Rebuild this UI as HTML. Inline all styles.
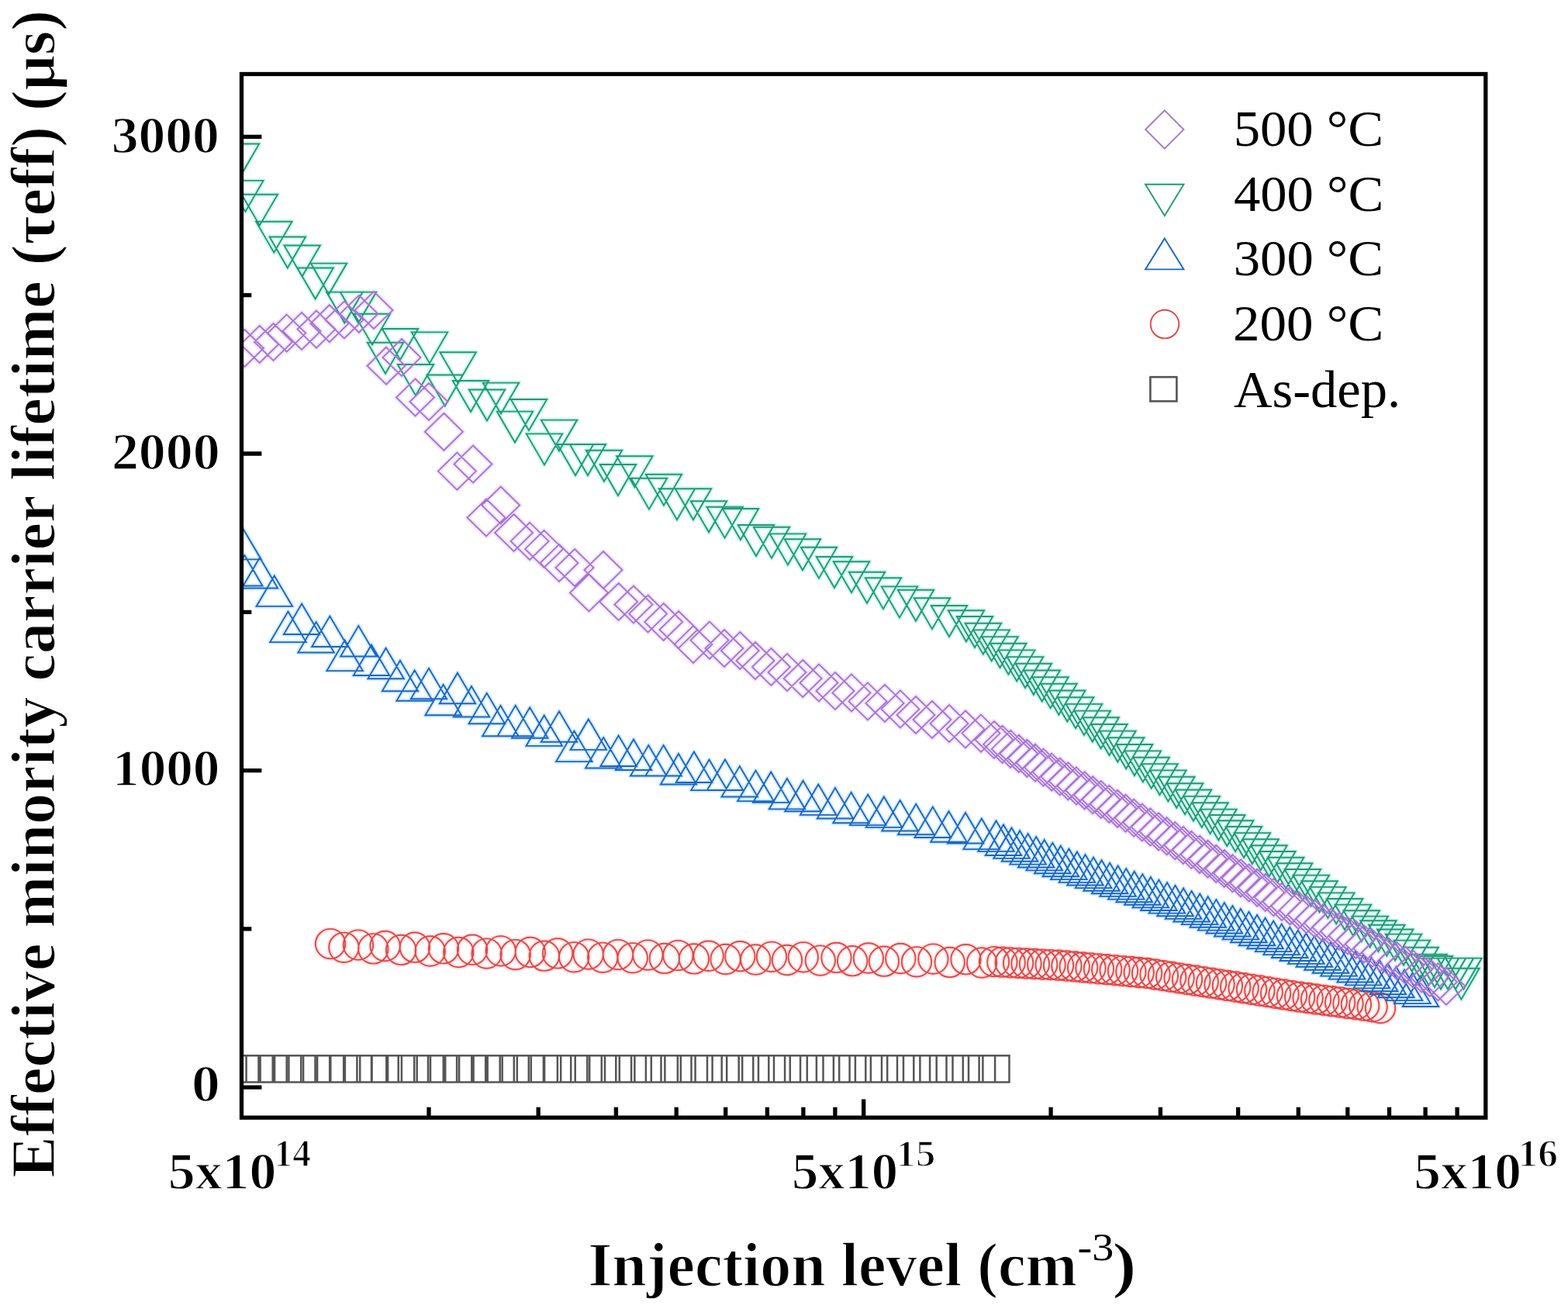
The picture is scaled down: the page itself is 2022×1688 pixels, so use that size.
<!DOCTYPE html>
<html><head><meta charset="utf-8"><title>Effective minority carrier lifetime</title>
<style>html,body{margin:0;padding:0;background:#fff;}svg{display:block;}</style>
</head><body>
<svg width="2022" height="1688" viewBox="0 0 2022 1688">
<defs><clipPath id="pc"><rect x="311.5" y="95.5" width="1604.3" height="1345.7"/></clipPath></defs>
<rect width="2022" height="1688" fill="#fff"/>
<g clip-path="url(#pc)" fill="none" stroke-linejoin="miter">
<g stroke-width="6" opacity="0.8" stroke-linejoin="round">
<path d="M406.9 1217.1a19.2 19.2 0 1 0 38.4 0a19.2 19.2 0 1 0 -38.4 0ZM424.2 1221.8a19.2 19.2 0 1 0 38.4 0a19.2 19.2 0 1 0 -38.4 0ZM442.8 1218.6a19.2 19.2 0 1 0 38.4 0a19.2 19.2 0 1 0 -38.4 0ZM462.1 1223.4a19.2 19.2 0 1 0 38.4 0a19.2 19.2 0 1 0 -38.4 0ZM477.4 1220.0a19.2 19.2 0 1 0 38.4 0a19.2 19.2 0 1 0 -38.4 0ZM497.9 1224.9a19.2 19.2 0 1 0 38.4 0a19.2 19.2 0 1 0 -38.4 0ZM515.7 1221.7a19.2 19.2 0 1 0 38.4 0a19.2 19.2 0 1 0 -38.4 0ZM535.5 1226.5a19.2 19.2 0 1 0 38.4 0a19.2 19.2 0 1 0 -38.4 0ZM552.8 1223.2a19.2 19.2 0 1 0 38.4 0a19.2 19.2 0 1 0 -38.4 0ZM572.1 1228.0a19.2 19.2 0 1 0 38.4 0a19.2 19.2 0 1 0 -38.4 0ZM589.9 1224.8a19.2 19.2 0 1 0 38.4 0a19.2 19.2 0 1 0 -38.4 0ZM608.4 1229.6a19.2 19.2 0 1 0 38.4 0a19.2 19.2 0 1 0 -38.4 0ZM626.5 1226.3a19.2 19.2 0 1 0 38.4 0a19.2 19.2 0 1 0 -38.4 0ZM645.5 1231.1a19.2 19.2 0 1 0 38.4 0a19.2 19.2 0 1 0 -38.4 0ZM664.6 1227.9a19.2 19.2 0 1 0 38.4 0a19.2 19.2 0 1 0 -38.4 0ZM682.6 1232.7a19.2 19.2 0 1 0 38.4 0a19.2 19.2 0 1 0 -38.4 0ZM699.9 1229.4a19.2 19.2 0 1 0 38.4 0a19.2 19.2 0 1 0 -38.4 0ZM721.0 1234.3a19.2 19.2 0 1 0 38.4 0a19.2 19.2 0 1 0 -38.4 0ZM739.5 1230.6a19.2 19.2 0 1 0 38.4 0a19.2 19.2 0 1 0 -38.4 0ZM758.0 1234.8a19.2 19.2 0 1 0 38.4 0a19.2 19.2 0 1 0 -38.4 0ZM777.8 1231.1a19.2 19.2 0 1 0 38.4 0a19.2 19.2 0 1 0 -38.4 0ZM796.6 1235.3a19.2 19.2 0 1 0 38.4 0a19.2 19.2 0 1 0 -38.4 0ZM816.2 1231.6a19.2 19.2 0 1 0 38.4 0a19.2 19.2 0 1 0 -38.4 0ZM837.6 1235.9a19.2 19.2 0 1 0 38.4 0a19.2 19.2 0 1 0 -38.4 0ZM855.2 1232.1a19.2 19.2 0 1 0 38.4 0a19.2 19.2 0 1 0 -38.4 0ZM875.7 1236.4a19.2 19.2 0 1 0 38.4 0a19.2 19.2 0 1 0 -38.4 0ZM894.4 1232.7a19.2 19.2 0 1 0 38.4 0a19.2 19.2 0 1 0 -38.4 0ZM916.4 1237.0a19.2 19.2 0 1 0 38.4 0a19.2 19.2 0 1 0 -38.4 0ZM935.1 1233.2a19.2 19.2 0 1 0 38.4 0a19.2 19.2 0 1 0 -38.4 0ZM955.1 1237.5a19.2 19.2 0 1 0 38.4 0a19.2 19.2 0 1 0 -38.4 0ZM975.8 1233.8a19.2 19.2 0 1 0 38.4 0a19.2 19.2 0 1 0 -38.4 0ZM995.8 1238.0a19.2 19.2 0 1 0 38.4 0a19.2 19.2 0 1 0 -38.4 0ZM1016.6 1234.3a19.2 19.2 0 1 0 38.4 0a19.2 19.2 0 1 0 -38.4 0ZM1038.6 1238.6a19.2 19.2 0 1 0 38.4 0a19.2 19.2 0 1 0 -38.4 0ZM1059.3 1234.9a19.2 19.2 0 1 0 38.4 0a19.2 19.2 0 1 0 -38.4 0ZM1080.0 1239.2a19.2 19.2 0 1 0 38.4 0a19.2 19.2 0 1 0 -38.4 0ZM1100.7 1235.5a19.2 19.2 0 1 0 38.4 0a19.2 19.2 0 1 0 -38.4 0ZM1120.7 1239.7a19.2 19.2 0 1 0 38.4 0a19.2 19.2 0 1 0 -38.4 0ZM1142.1 1236.0a19.2 19.2 0 1 0 38.4 0a19.2 19.2 0 1 0 -38.4 0ZM1162.8 1240.3a19.2 19.2 0 1 0 38.4 0a19.2 19.2 0 1 0 -38.4 0ZM1184.2 1236.6a19.2 19.2 0 1 0 38.4 0a19.2 19.2 0 1 0 -38.4 0ZM1205.5 1240.9a19.2 19.2 0 1 0 38.4 0a19.2 19.2 0 1 0 -38.4 0ZM1226.3 1237.2a19.2 19.2 0 1 0 38.4 0a19.2 19.2 0 1 0 -38.4 0ZM1246.9 1241.5a19.2 19.2 0 1 0 38.4 0a19.2 19.2 0 1 0 -38.4 0ZM1262.8 1240.1a19.2 19.2 0 1 0 38.4 0a19.2 19.2 0 1 0 -38.4 0ZM1273.2 1240.7a19.2 19.2 0 1 0 38.4 0a19.2 19.2 0 1 0 -38.4 0ZM1283.5 1241.3a19.2 19.2 0 1 0 38.4 0a19.2 19.2 0 1 0 -38.4 0ZM1293.9 1241.8a19.2 19.2 0 1 0 38.4 0a19.2 19.2 0 1 0 -38.4 0ZM1304.3 1242.4a19.2 19.2 0 1 0 38.4 0a19.2 19.2 0 1 0 -38.4 0ZM1314.7 1243.0a19.2 19.2 0 1 0 38.4 0a19.2 19.2 0 1 0 -38.4 0ZM1325.0 1243.6a19.2 19.2 0 1 0 38.4 0a19.2 19.2 0 1 0 -38.4 0ZM1335.4 1244.1a19.2 19.2 0 1 0 38.4 0a19.2 19.2 0 1 0 -38.4 0ZM1345.8 1244.7a19.2 19.2 0 1 0 38.4 0a19.2 19.2 0 1 0 -38.4 0ZM1356.2 1245.5a19.2 19.2 0 1 0 38.4 0a19.2 19.2 0 1 0 -38.4 0ZM1366.5 1246.4a19.2 19.2 0 1 0 38.4 0a19.2 19.2 0 1 0 -38.4 0ZM1376.9 1247.4a19.2 19.2 0 1 0 38.4 0a19.2 19.2 0 1 0 -38.4 0ZM1387.3 1248.3a19.2 19.2 0 1 0 38.4 0a19.2 19.2 0 1 0 -38.4 0ZM1397.7 1249.3a19.2 19.2 0 1 0 38.4 0a19.2 19.2 0 1 0 -38.4 0ZM1408.0 1250.2a19.2 19.2 0 1 0 38.4 0a19.2 19.2 0 1 0 -38.4 0ZM1418.4 1251.1a19.2 19.2 0 1 0 38.4 0a19.2 19.2 0 1 0 -38.4 0ZM1428.8 1252.1a19.2 19.2 0 1 0 38.4 0a19.2 19.2 0 1 0 -38.4 0ZM1439.2 1253.0a19.2 19.2 0 1 0 38.4 0a19.2 19.2 0 1 0 -38.4 0ZM1449.5 1254.0a19.2 19.2 0 1 0 38.4 0a19.2 19.2 0 1 0 -38.4 0ZM1459.9 1254.9a19.2 19.2 0 1 0 38.4 0a19.2 19.2 0 1 0 -38.4 0ZM1470.3 1256.5a19.2 19.2 0 1 0 38.4 0a19.2 19.2 0 1 0 -38.4 0ZM1480.7 1258.1a19.2 19.2 0 1 0 38.4 0a19.2 19.2 0 1 0 -38.4 0ZM1491.0 1259.7a19.2 19.2 0 1 0 38.4 0a19.2 19.2 0 1 0 -38.4 0ZM1501.4 1261.3a19.2 19.2 0 1 0 38.4 0a19.2 19.2 0 1 0 -38.4 0ZM1511.8 1262.9a19.2 19.2 0 1 0 38.4 0a19.2 19.2 0 1 0 -38.4 0ZM1522.2 1264.5a19.2 19.2 0 1 0 38.4 0a19.2 19.2 0 1 0 -38.4 0ZM1532.5 1266.1a19.2 19.2 0 1 0 38.4 0a19.2 19.2 0 1 0 -38.4 0ZM1542.9 1267.7a19.2 19.2 0 1 0 38.4 0a19.2 19.2 0 1 0 -38.4 0ZM1553.3 1269.3a19.2 19.2 0 1 0 38.4 0a19.2 19.2 0 1 0 -38.4 0ZM1563.7 1270.9a19.2 19.2 0 1 0 38.4 0a19.2 19.2 0 1 0 -38.4 0ZM1574.0 1272.5a19.2 19.2 0 1 0 38.4 0a19.2 19.2 0 1 0 -38.4 0ZM1584.4 1274.2a19.2 19.2 0 1 0 38.4 0a19.2 19.2 0 1 0 -38.4 0ZM1594.8 1275.8a19.2 19.2 0 1 0 38.4 0a19.2 19.2 0 1 0 -38.4 0ZM1605.2 1277.5a19.2 19.2 0 1 0 38.4 0a19.2 19.2 0 1 0 -38.4 0ZM1615.5 1279.1a19.2 19.2 0 1 0 38.4 0a19.2 19.2 0 1 0 -38.4 0ZM1625.9 1280.8a19.2 19.2 0 1 0 38.4 0a19.2 19.2 0 1 0 -38.4 0ZM1636.3 1282.4a19.2 19.2 0 1 0 38.4 0a19.2 19.2 0 1 0 -38.4 0ZM1646.7 1284.1a19.2 19.2 0 1 0 38.4 0a19.2 19.2 0 1 0 -38.4 0ZM1657.0 1285.7a19.2 19.2 0 1 0 38.4 0a19.2 19.2 0 1 0 -38.4 0ZM1667.4 1287.0a19.2 19.2 0 1 0 38.4 0a19.2 19.2 0 1 0 -38.4 0ZM1677.8 1288.4a19.2 19.2 0 1 0 38.4 0a19.2 19.2 0 1 0 -38.4 0ZM1688.2 1289.8a19.2 19.2 0 1 0 38.4 0a19.2 19.2 0 1 0 -38.4 0ZM1698.5 1291.2a19.2 19.2 0 1 0 38.4 0a19.2 19.2 0 1 0 -38.4 0ZM1708.9 1292.5a19.2 19.2 0 1 0 38.4 0a19.2 19.2 0 1 0 -38.4 0ZM1719.3 1293.9a19.2 19.2 0 1 0 38.4 0a19.2 19.2 0 1 0 -38.4 0ZM1729.7 1295.3a19.2 19.2 0 1 0 38.4 0a19.2 19.2 0 1 0 -38.4 0ZM1740.0 1296.7a19.2 19.2 0 1 0 38.4 0a19.2 19.2 0 1 0 -38.4 0ZM1750.4 1298.3a19.2 19.2 0 1 0 38.4 0a19.2 19.2 0 1 0 -38.4 0ZM1760.8 1300.0a19.2 19.2 0 1 0 38.4 0a19.2 19.2 0 1 0 -38.4 0Z" stroke="#fde0e0"/>
<path d="M313.5 681.9L336.8 721.4H290.2ZM315.4 716.0L338.6 755.5H292.1ZM335.0 719.0L358.2 758.5H311.8ZM353.8 742.4L377.1 781.9H330.6ZM371.5 788.6L394.8 828.1H348.2ZM389.1 778.5L412.4 818.0H365.9ZM407.6 802.0L430.9 841.5H384.4ZM425.3 794.5L448.6 834.0H402.1ZM444.6 825.6L467.9 865.1H421.4ZM462.3 807.0L485.6 846.5H439.1ZM479.0 831.5L502.2 871.0H455.8ZM497.6 835.7L520.9 875.2H474.4ZM516.0 851.7L539.2 891.2H492.8ZM534.6 864.3L557.9 903.8H511.4ZM553.0 861.8L576.2 901.3H529.8ZM571.6 882.8L594.9 922.3H548.4ZM590.0 867.7L613.2 907.2H566.8ZM608.0 885.0L631.2 924.5H584.8ZM627.7 893.8L651.0 933.3H604.5ZM645.4 909.8L668.6 949.3H622.1ZM664.7 909.8L688.0 949.3H641.5ZM683.2 912.3L706.5 951.8H660.0ZM701.7 922.4L725.0 961.9H678.5ZM721.0 917.3L744.2 956.8H697.8ZM740.4 942.6L763.6 982.1H717.1ZM758.9 927.4L782.1 966.9H735.6ZM778.2 951.0L801.5 990.5H755.0ZM797.6 948.5L820.9 988.0H774.4ZM817.0 953.5L840.2 993.0H793.8ZM836.3 961.0L859.5 1000.5H813.0ZM855.6 961.0L878.9 1000.5H832.4ZM875.0 972.0L898.2 1011.5H851.8ZM895.0 969.5L918.2 1009.0H871.8ZM914.5 979.6L937.8 1019.1H891.2ZM935.0 979.5L958.2 1019.0H911.8ZM953.8 988.0L977.0 1027.5H930.5ZM974.5 993.6L997.8 1033.1H951.2ZM994.2 995.4L1017.5 1034.9H971.0ZM1015.0 1003.9L1038.2 1043.4H991.8ZM1035.6 1006.7L1058.8 1046.2H1012.3ZM1055.3 1011.4L1078.5 1050.9H1032.0ZM1077.0 1016.0L1100.2 1055.5H1053.8ZM1097.6 1021.8L1120.8 1061.3H1074.3ZM1119.2 1024.6L1142.5 1064.1H1096.0ZM1139.9 1027.4L1163.2 1066.9H1116.7ZM1160.6 1032.0L1183.8 1071.5H1137.3ZM1181.2 1036.8L1204.5 1076.3H1158.0ZM1202.8 1040.5L1226.0 1080.0H1179.5ZM1223.5 1046.2L1246.8 1085.7H1200.2ZM1245.0 1048.0L1268.2 1087.5H1221.8ZM1265.8 1055.6L1289.0 1095.1H1242.5ZM1284.6 1058.4L1307.8 1097.9H1261.3ZM1294.0 1063.5L1317.2 1103.0H1270.8ZM1304.5 1067.4L1327.8 1106.9H1281.3ZM1315.1 1071.2L1338.3 1110.7H1291.8ZM1325.6 1075.1L1348.9 1114.6H1302.4ZM1336.2 1079.0L1359.4 1118.5H1312.9ZM1346.7 1082.9L1370.0 1122.4H1323.5ZM1357.3 1086.8L1380.5 1126.3H1334.0ZM1367.8 1090.7L1391.1 1130.2H1344.6ZM1378.4 1094.6L1401.6 1134.1H1355.1ZM1388.9 1098.4L1412.2 1137.9H1365.7ZM1399.5 1102.0L1422.7 1141.5H1376.2ZM1410.0 1105.6L1433.3 1145.1H1386.8ZM1420.6 1109.2L1443.8 1148.7H1397.3ZM1431.1 1112.8L1454.4 1152.3H1407.9ZM1441.7 1116.4L1464.9 1155.9H1418.4ZM1452.2 1120.1L1475.5 1159.6H1429.0ZM1462.8 1123.7L1486.0 1163.2H1439.5ZM1473.3 1127.3L1496.6 1166.8H1450.1ZM1483.9 1130.9L1507.1 1170.4H1460.6ZM1494.4 1134.5L1517.7 1174.0H1471.2ZM1505.0 1138.1L1528.2 1177.6H1481.7ZM1515.5 1141.8L1538.8 1181.3H1492.3ZM1526.1 1145.4L1549.3 1184.9H1502.8ZM1536.6 1149.0L1559.9 1188.5H1513.4ZM1547.2 1152.6L1570.4 1192.1H1523.9ZM1557.7 1156.2L1581.0 1195.7H1534.5ZM1568.3 1160.1L1591.5 1199.6H1545.0ZM1578.8 1164.0L1602.1 1203.5H1555.6ZM1589.4 1168.0L1612.6 1207.5H1566.1ZM1599.9 1171.9L1623.2 1211.4H1576.7ZM1610.5 1175.8L1633.7 1215.3H1587.2ZM1621.0 1179.8L1644.3 1219.3H1597.8ZM1631.6 1183.7L1654.8 1223.2H1608.3ZM1642.1 1187.6L1665.4 1227.1H1618.9ZM1652.7 1191.6L1675.9 1231.1H1629.4ZM1663.2 1195.5L1686.5 1235.0H1640.0ZM1673.8 1199.5L1697.0 1239.0H1650.5ZM1684.3 1203.4L1707.6 1242.9H1661.1ZM1694.9 1207.3L1718.1 1246.8H1671.6ZM1705.4 1211.3L1728.7 1250.8H1682.2ZM1716.0 1215.2L1739.2 1254.7H1692.7ZM1726.5 1219.1L1749.8 1258.6H1703.3ZM1737.1 1223.1L1760.3 1262.6H1713.8ZM1747.6 1227.0L1770.9 1266.5H1724.4ZM1758.2 1230.9L1781.4 1270.4H1734.9ZM1768.7 1234.9L1792.0 1274.4H1745.5ZM1779.3 1238.8L1802.5 1278.3H1756.0ZM1789.8 1242.8L1813.1 1282.3H1766.6ZM1800.4 1246.7L1823.6 1286.2H1777.1ZM1810.9 1250.6L1834.2 1290.1H1787.7ZM1821.5 1254.6L1844.7 1294.1H1798.2ZM1832.0 1258.5L1855.2 1298.0H1808.8Z" stroke="#cfeafc"/>
<path d="M287.8 185.5H334.2L311.0 225.5ZM293.1 232.9H339.6L316.4 272.9ZM311.6 250.7H358.1L334.8 290.7ZM330.1 285.7H376.6L353.3 325.7ZM347.6 305.5H394.1L370.8 345.5ZM366.4 316.5H412.9L389.6 356.5ZM383.4 345.5H429.9L406.6 385.5ZM400.8 339.6H447.2L424.0 379.6ZM421.1 376.6H467.6L444.4 416.6ZM438.8 376.6H485.2L462.0 416.6ZM456.8 404.7H503.2L480.0 444.7ZM473.8 441.8H520.2L497.0 481.8ZM492.8 424.0H539.2L516.0 464.0ZM512.8 470.0H559.2L536.0 510.0ZM530.8 428.4H577.2L554.0 468.4ZM550.5 483.5H597.0L573.8 523.5ZM567.4 454.3H613.9L590.6 494.3ZM583.8 491.0H630.2L607.0 531.0ZM604.8 502.5H651.2L628.0 542.5ZM622.8 493.6H669.2L646.0 533.6ZM640.8 530.6H687.2L664.0 570.6ZM658.8 515.0H705.2L682.0 555.0ZM678.8 559.4H725.2L702.0 599.4ZM697.8 541.6H744.2L721.0 581.6ZM718.8 573.0H765.2L742.0 613.0ZM734.8 573.0H781.2L758.0 613.0ZM755.8 580.8H802.2L779.0 620.8ZM773.8 599.0H820.2L797.0 639.0ZM795.1 588.2H841.6L818.4 628.2ZM813.8 616.7H860.2L837.0 656.7ZM832.8 611.7H879.2L856.0 651.7ZM849.8 630.3H896.2L873.0 670.3ZM870.8 630.3H917.2L894.0 670.3ZM890.8 646.3H937.2L914.0 686.3ZM911.4 653.7H957.9L934.6 693.7ZM931.8 656.0H978.2L955.0 696.0ZM951.8 677.0H998.2L975.0 717.0ZM971.8 679.7H1018.2L995.0 719.7ZM992.8 688.4H1039.2L1016.0 728.4ZM1011.8 695.3H1058.2L1035.0 735.3ZM1032.8 705.7H1079.2L1056.0 745.7ZM1052.8 718.0H1099.2L1076.0 758.0ZM1074.8 724.2H1121.2L1098.0 764.2ZM1094.8 737.8H1141.2L1118.0 777.8ZM1115.8 745.2H1162.2L1139.0 785.2ZM1136.8 756.4H1183.2L1160.0 796.4ZM1157.8 760.8H1204.2L1181.0 800.8ZM1178.8 771.2H1225.2L1202.0 811.2ZM1200.8 781.0H1247.2L1224.0 821.0ZM1222.8 787.3H1269.2L1246.0 827.3ZM1233.8 795.0H1280.2L1257.0 835.0ZM1244.6 803.7H1291.1L1267.8 843.7ZM1255.4 812.4H1301.9L1278.7 852.4ZM1266.3 821.1H1312.8L1289.5 861.1ZM1277.1 829.7H1323.6L1300.4 869.7ZM1288.0 838.4H1334.5L1311.2 878.4ZM1298.8 847.1H1345.3L1322.1 887.1ZM1309.6 855.8H1356.1L1332.9 895.8ZM1320.5 864.5H1367.0L1343.7 904.5ZM1331.3 873.2H1377.8L1354.6 913.2ZM1342.2 881.8H1388.7L1365.4 921.8ZM1353.0 890.5H1399.5L1376.3 930.5ZM1363.9 899.2H1410.4L1387.1 939.2ZM1374.7 907.9H1421.2L1398.0 947.9ZM1385.5 916.6H1432.0L1408.8 956.6ZM1396.4 925.3H1442.9L1419.6 965.3ZM1407.2 934.0H1453.7L1430.5 974.0ZM1418.1 942.6H1464.6L1441.3 982.6ZM1428.9 951.3H1475.4L1452.2 991.3ZM1439.8 960.0H1486.3L1463.0 1000.0ZM1450.6 968.4H1497.1L1473.9 1008.4ZM1461.4 976.7H1507.9L1484.7 1016.7ZM1472.3 985.1H1518.8L1495.5 1025.1ZM1483.1 993.4H1529.6L1506.4 1033.4ZM1494.0 1001.8H1540.5L1517.2 1041.8ZM1504.8 1010.2H1551.3L1528.1 1050.2ZM1515.7 1018.5H1562.2L1538.9 1058.5ZM1526.5 1026.9H1573.0L1549.8 1066.9ZM1537.3 1035.2H1583.8L1560.6 1075.2ZM1548.2 1043.6H1594.7L1571.4 1083.6ZM1559.0 1051.0H1605.5L1582.3 1091.0ZM1569.9 1058.2H1616.4L1593.1 1098.2ZM1580.7 1066.0H1627.2L1604.0 1106.0ZM1591.6 1074.1H1638.1L1614.8 1114.1ZM1602.4 1082.2H1648.9L1625.6 1122.2ZM1613.2 1090.3H1659.7L1636.5 1130.3ZM1624.1 1098.0H1670.6L1647.3 1138.0ZM1634.9 1105.7H1681.4L1658.2 1145.7ZM1645.8 1113.3H1692.3L1669.0 1153.3ZM1656.6 1121.0H1703.1L1679.9 1161.0ZM1667.5 1128.6H1714.0L1690.7 1168.6ZM1678.3 1136.3H1724.8L1701.5 1176.3ZM1689.1 1143.9H1735.6L1712.4 1183.9ZM1700.0 1151.4H1746.5L1723.2 1191.4ZM1710.8 1159.0H1757.3L1734.1 1199.0ZM1721.7 1166.6H1768.2L1744.9 1206.6ZM1732.5 1174.2H1779.0L1755.8 1214.2ZM1743.4 1181.6H1789.9L1766.6 1221.6ZM1754.2 1187.2H1800.7L1777.4 1227.2ZM1765.0 1192.7H1811.5L1788.3 1232.7ZM1775.9 1198.5H1822.4L1799.1 1238.5ZM1786.7 1204.6H1833.2L1810.0 1244.6ZM1797.6 1212.6H1844.1L1820.8 1252.6ZM1808.4 1221.8H1854.9L1831.7 1261.8ZM1819.2 1230.7H1865.8L1842.5 1270.7ZM1826.8 1233.0H1873.2L1850.0 1273.0ZM1834.8 1235.6H1881.2L1858.0 1275.6ZM1843.8 1235.6H1890.2L1867.0 1275.6ZM1853.8 1235.6H1900.2L1877.0 1275.6ZM1864.2 1235.6H1910.8L1887.5 1275.6ZM1861.2 1248.7H1907.7L1884.4 1288.7Z" stroke="#c9f5ea"/>
<path d="M315.5 425.0L340.0 449.0L315.5 473.0L291.0 449.0ZM334.7 420.0L359.2 444.0L334.7 468.0L310.2 444.0ZM352.5 417.0L377.0 441.0L352.5 465.0L328.0 441.0ZM369.7 405.6L394.2 429.6L369.7 453.6L345.2 429.6ZM389.0 403.0L413.5 427.0L389.0 451.0L364.5 427.0ZM408.0 400.6L432.5 424.6L408.0 448.6L383.5 424.6ZM424.9 393.2L449.4 417.2L424.9 441.2L400.4 417.2ZM443.9 388.5L468.4 412.5L443.9 436.5L419.4 412.5ZM462.9 380.8L487.4 404.8L462.9 428.8L438.4 404.8ZM482.0 376.0L506.5 400.0L482.0 424.0L457.5 400.0ZM498.0 447.7L522.5 471.7L498.0 495.7L473.5 471.7ZM518.0 437.0L542.5 461.0L518.0 485.0L493.5 461.0ZM535.5 488.5L560.0 512.5L535.5 536.5L511.0 512.5ZM553.0 494.0L577.5 518.0L553.0 542.0L528.5 518.0ZM572.4 532.8L596.9 556.8L572.4 580.8L547.9 556.8ZM589.4 583.6L613.9 607.6L589.4 631.6L564.9 607.6ZM610.0 574.5L634.5 598.5L610.0 622.5L585.5 598.5ZM627.0 643.5L651.5 667.5L627.0 691.5L602.5 667.5ZM645.7 627.5L670.2 651.5L645.7 675.5L621.2 651.5ZM662.6 663.0L687.1 687.0L662.6 711.0L638.1 687.0ZM683.1 673.9L707.6 697.9L683.1 721.9L658.6 697.9ZM701.6 683.9L726.1 707.9L701.6 731.9L677.1 707.9ZM721.0 702.0L745.5 726.0L721.0 750.0L696.5 726.0ZM741.0 708.0L765.5 732.0L741.0 756.0L716.5 732.0ZM759.5 740.4L784.0 764.4L759.5 788.4L735.0 764.4ZM778.0 711.0L802.5 735.0L778.0 759.0L753.5 735.0ZM797.7 752.0L822.2 776.0L797.7 800.0L773.2 776.0ZM817.0 755.5L841.5 779.5L817.0 803.5L792.5 779.5ZM835.6 767.5L860.1 791.5L835.6 815.5L811.1 791.5ZM855.7 778.0L880.2 802.0L855.7 826.0L831.2 802.0ZM875.0 788.0L899.5 812.0L875.0 836.0L850.5 812.0ZM894.0 807.0L918.5 831.0L894.0 855.0L869.5 831.0ZM915.0 801.6L939.5 825.6L915.0 849.6L890.5 825.6ZM934.0 812.0L958.5 836.0L934.0 860.0L909.5 836.0ZM954.3 815.0L978.8 839.0L954.3 863.0L929.8 839.0ZM974.0 828.0L998.5 852.0L974.0 876.0L949.5 852.0ZM994.4 836.0L1018.9 860.0L994.4 884.0L969.9 860.0ZM1015.0 843.0L1039.5 867.0L1015.0 891.0L990.5 867.0ZM1035.2 851.0L1059.7 875.0L1035.2 899.0L1010.7 875.0ZM1056.0 856.5L1080.5 880.5L1056.0 904.5L1031.5 880.5ZM1077.0 867.0L1101.5 891.0L1077.0 915.0L1052.5 891.0ZM1098.0 869.4L1122.5 893.4L1098.0 917.4L1073.5 893.4ZM1119.0 880.4L1143.5 904.4L1119.0 928.4L1094.5 904.4ZM1141.0 882.9L1165.5 906.9L1141.0 930.9L1116.5 906.9ZM1161.0 890.4L1185.5 914.4L1161.0 938.4L1136.5 914.4ZM1181.0 898.0L1205.5 922.0L1181.0 946.0L1156.5 922.0ZM1202.0 904.0L1226.5 928.0L1202.0 952.0L1177.5 928.0ZM1224.0 909.0L1248.5 933.0L1224.0 957.0L1199.5 933.0ZM1245.0 916.5L1269.5 940.5L1245.0 964.5L1220.5 940.5ZM1265.0 921.6L1289.5 945.6L1265.0 969.6L1240.5 945.6ZM1282.0 930.0L1306.5 954.0L1282.0 978.0L1257.5 954.0ZM1292.6 935.9L1317.1 959.9L1292.6 983.9L1268.1 959.9ZM1303.2 941.9L1327.7 965.9L1303.2 989.9L1278.7 965.9ZM1313.8 947.8L1338.3 971.8L1313.8 995.8L1289.3 971.8ZM1324.4 953.8L1348.9 977.8L1324.4 1001.8L1299.9 977.8ZM1335.0 959.7L1359.5 983.7L1335.0 1007.7L1310.5 983.7ZM1345.6 965.6L1370.1 989.6L1345.6 1013.6L1321.1 989.6ZM1356.2 971.6L1380.7 995.6L1356.2 1019.6L1331.7 995.6ZM1366.8 977.5L1391.3 1001.5L1366.8 1025.5L1342.3 1001.5ZM1377.4 983.4L1401.9 1007.4L1377.4 1031.4L1352.9 1007.4ZM1388.0 989.4L1412.5 1013.4L1388.0 1037.4L1363.5 1013.4ZM1398.6 995.3L1423.1 1019.3L1398.6 1043.3L1374.1 1019.3ZM1409.2 1001.2L1433.7 1025.2L1409.2 1049.2L1384.7 1025.2ZM1419.8 1007.0L1444.3 1031.0L1419.8 1055.0L1395.3 1031.0ZM1430.4 1012.9L1454.9 1036.9L1430.4 1060.9L1405.9 1036.9ZM1441.0 1018.8L1465.5 1042.8L1441.0 1066.8L1416.5 1042.8ZM1451.6 1024.7L1476.1 1048.7L1451.6 1072.7L1427.1 1048.7ZM1462.2 1030.6L1486.7 1054.6L1462.2 1078.6L1437.7 1054.6ZM1472.8 1036.5L1497.3 1060.5L1472.8 1084.5L1448.3 1060.5ZM1483.4 1042.4L1507.9 1066.4L1483.4 1090.4L1458.9 1066.4ZM1494.0 1048.3L1518.5 1072.3L1494.0 1096.3L1469.5 1072.3ZM1504.6 1054.2L1529.1 1078.2L1504.6 1102.2L1480.1 1078.2ZM1515.2 1060.1L1539.7 1084.1L1515.2 1108.1L1490.7 1084.1ZM1525.8 1066.0L1550.3 1090.0L1525.8 1114.0L1501.3 1090.0ZM1536.4 1071.9L1560.9 1095.9L1536.4 1119.9L1511.9 1095.9ZM1547.0 1077.8L1571.5 1101.8L1547.0 1125.8L1522.5 1101.8ZM1557.6 1083.7L1582.1 1107.7L1557.6 1131.7L1533.1 1107.7ZM1568.2 1089.8L1592.7 1113.8L1568.2 1137.8L1543.7 1113.8ZM1578.8 1096.0L1603.3 1120.0L1578.8 1144.0L1554.3 1120.0ZM1589.4 1102.2L1613.9 1126.2L1589.4 1150.2L1564.9 1126.2ZM1600.0 1108.3L1624.5 1132.3L1600.0 1156.3L1575.5 1132.3ZM1610.6 1114.5L1635.1 1138.5L1610.6 1162.5L1586.1 1138.5ZM1621.2 1120.7L1645.7 1144.7L1621.2 1168.7L1596.7 1144.7ZM1631.8 1126.9L1656.3 1150.9L1631.8 1174.9L1607.3 1150.9ZM1642.4 1133.1L1666.9 1157.1L1642.4 1181.1L1617.9 1157.1ZM1653.0 1138.9L1677.5 1162.9L1653.0 1186.9L1628.5 1162.9ZM1663.6 1144.3L1688.1 1168.3L1663.6 1192.3L1639.1 1168.3ZM1674.2 1149.8L1698.7 1173.8L1674.2 1197.8L1649.7 1173.8ZM1684.8 1155.2L1709.3 1179.2L1684.8 1203.2L1660.3 1179.2ZM1695.4 1160.6L1719.9 1184.6L1695.4 1208.6L1670.9 1184.6ZM1706.0 1166.1L1730.5 1190.1L1706.0 1214.1L1681.5 1190.1ZM1716.6 1171.5L1741.1 1195.5L1716.6 1219.5L1692.1 1195.5ZM1727.2 1177.0L1751.7 1201.0L1727.2 1225.0L1702.7 1201.0ZM1737.8 1182.4L1762.3 1206.4L1737.8 1230.4L1713.3 1206.4ZM1748.4 1187.8L1772.9 1211.8L1748.4 1235.8L1723.9 1211.8ZM1759.0 1193.3L1783.5 1217.3L1759.0 1241.3L1734.5 1217.3ZM1769.6 1198.7L1794.1 1222.7L1769.6 1246.7L1745.1 1222.7ZM1780.2 1204.2L1804.7 1228.2L1780.2 1252.2L1755.7 1228.2ZM1790.8 1209.6L1815.3 1233.6L1790.8 1257.6L1766.3 1233.6ZM1801.4 1215.1L1825.9 1239.1L1801.4 1263.1L1776.9 1239.1ZM1812.0 1220.5L1836.5 1244.5L1812.0 1268.5L1787.5 1244.5ZM1822.6 1225.9L1847.1 1249.9L1822.6 1273.9L1798.1 1249.9ZM1833.2 1231.4L1857.7 1255.4L1833.2 1279.4L1808.7 1255.4ZM1843.8 1236.8L1868.3 1260.8L1843.8 1284.8L1819.3 1260.8ZM1854.4 1242.3L1878.9 1266.3L1854.4 1290.3L1829.9 1266.3ZM1865.0 1247.7L1889.5 1271.7L1865.0 1295.7L1840.5 1271.7Z" stroke="#f1e2fb"/>
</g>
<path d="M299.4 1361.3h34.1v34.1h-34.1ZM317.6 1361.3h34.1v34.1h-34.1ZM335.6 1361.3h34.1v34.1h-34.1ZM354.1 1361.3h34.1v34.1h-34.1ZM372.4 1361.3h34.1v34.1h-34.1ZM391.1 1361.3h34.1v34.1h-34.1ZM409.1 1361.3h34.1v34.1h-34.1ZM426.3 1361.3h34.1v34.1h-34.1ZM444.9 1361.3h34.1v34.1h-34.1ZM464.2 1361.3h34.1v34.1h-34.1ZM479.6 1361.3h34.1v34.1h-34.1ZM500.1 1361.3h34.1v34.1h-34.1ZM517.9 1361.3h34.1v34.1h-34.1ZM537.7 1361.3h34.1v34.1h-34.1ZM555.0 1361.3h34.1v34.1h-34.1ZM574.2 1361.3h34.1v34.1h-34.1ZM592.1 1361.3h34.1v34.1h-34.1ZM610.6 1361.3h34.1v34.1h-34.1ZM628.7 1361.3h34.1v34.1h-34.1ZM647.7 1361.3h34.1v34.1h-34.1ZM666.8 1361.3h34.1v34.1h-34.1ZM684.8 1361.3h34.1v34.1h-34.1ZM702.1 1361.3h34.1v34.1h-34.1ZM723.2 1361.3h34.1v34.1h-34.1ZM741.7 1361.3h34.1v34.1h-34.1ZM760.2 1361.3h34.1v34.1h-34.1ZM780.0 1361.3h34.1v34.1h-34.1ZM798.8 1361.3h34.1v34.1h-34.1ZM818.4 1361.3h34.1v34.1h-34.1ZM839.8 1361.3h34.1v34.1h-34.1ZM857.4 1361.3h34.1v34.1h-34.1ZM877.9 1361.3h34.1v34.1h-34.1ZM896.6 1361.3h34.1v34.1h-34.1ZM918.6 1361.3h34.1v34.1h-34.1ZM937.2 1361.3h34.1v34.1h-34.1ZM957.2 1361.3h34.1v34.1h-34.1ZM978.0 1361.3h34.1v34.1h-34.1ZM998.0 1361.3h34.1v34.1h-34.1ZM1018.8 1361.3h34.1v34.1h-34.1ZM1040.8 1361.3h34.1v34.1h-34.1ZM1061.5 1361.3h34.1v34.1h-34.1ZM1082.2 1361.3h34.1v34.1h-34.1ZM1102.9 1361.3h34.1v34.1h-34.1ZM1122.9 1361.3h34.1v34.1h-34.1ZM1144.2 1361.3h34.1v34.1h-34.1ZM1165.0 1361.3h34.1v34.1h-34.1ZM1186.4 1361.3h34.1v34.1h-34.1ZM1207.7 1361.3h34.1v34.1h-34.1ZM1228.5 1361.3h34.1v34.1h-34.1ZM1249.0 1361.3h34.1v34.1h-34.1ZM1267.4 1361.3h34.1v34.1h-34.1Z" stroke="#555555" stroke-width="2.5"/>
<path d="M406.9 1217.1a19.2 19.2 0 1 0 38.4 0a19.2 19.2 0 1 0 -38.4 0ZM424.2 1221.8a19.2 19.2 0 1 0 38.4 0a19.2 19.2 0 1 0 -38.4 0ZM442.8 1218.6a19.2 19.2 0 1 0 38.4 0a19.2 19.2 0 1 0 -38.4 0ZM462.1 1223.4a19.2 19.2 0 1 0 38.4 0a19.2 19.2 0 1 0 -38.4 0ZM477.4 1220.0a19.2 19.2 0 1 0 38.4 0a19.2 19.2 0 1 0 -38.4 0ZM497.9 1224.9a19.2 19.2 0 1 0 38.4 0a19.2 19.2 0 1 0 -38.4 0ZM515.7 1221.7a19.2 19.2 0 1 0 38.4 0a19.2 19.2 0 1 0 -38.4 0ZM535.5 1226.5a19.2 19.2 0 1 0 38.4 0a19.2 19.2 0 1 0 -38.4 0ZM552.8 1223.2a19.2 19.2 0 1 0 38.4 0a19.2 19.2 0 1 0 -38.4 0ZM572.1 1228.0a19.2 19.2 0 1 0 38.4 0a19.2 19.2 0 1 0 -38.4 0ZM589.9 1224.8a19.2 19.2 0 1 0 38.4 0a19.2 19.2 0 1 0 -38.4 0ZM608.4 1229.6a19.2 19.2 0 1 0 38.4 0a19.2 19.2 0 1 0 -38.4 0ZM626.5 1226.3a19.2 19.2 0 1 0 38.4 0a19.2 19.2 0 1 0 -38.4 0ZM645.5 1231.1a19.2 19.2 0 1 0 38.4 0a19.2 19.2 0 1 0 -38.4 0ZM664.6 1227.9a19.2 19.2 0 1 0 38.4 0a19.2 19.2 0 1 0 -38.4 0ZM682.6 1232.7a19.2 19.2 0 1 0 38.4 0a19.2 19.2 0 1 0 -38.4 0ZM699.9 1229.4a19.2 19.2 0 1 0 38.4 0a19.2 19.2 0 1 0 -38.4 0ZM721.0 1234.3a19.2 19.2 0 1 0 38.4 0a19.2 19.2 0 1 0 -38.4 0ZM739.5 1230.6a19.2 19.2 0 1 0 38.4 0a19.2 19.2 0 1 0 -38.4 0ZM758.0 1234.8a19.2 19.2 0 1 0 38.4 0a19.2 19.2 0 1 0 -38.4 0ZM777.8 1231.1a19.2 19.2 0 1 0 38.4 0a19.2 19.2 0 1 0 -38.4 0ZM796.6 1235.3a19.2 19.2 0 1 0 38.4 0a19.2 19.2 0 1 0 -38.4 0ZM816.2 1231.6a19.2 19.2 0 1 0 38.4 0a19.2 19.2 0 1 0 -38.4 0ZM837.6 1235.9a19.2 19.2 0 1 0 38.4 0a19.2 19.2 0 1 0 -38.4 0ZM855.2 1232.1a19.2 19.2 0 1 0 38.4 0a19.2 19.2 0 1 0 -38.4 0ZM875.7 1236.4a19.2 19.2 0 1 0 38.4 0a19.2 19.2 0 1 0 -38.4 0ZM894.4 1232.7a19.2 19.2 0 1 0 38.4 0a19.2 19.2 0 1 0 -38.4 0ZM916.4 1237.0a19.2 19.2 0 1 0 38.4 0a19.2 19.2 0 1 0 -38.4 0ZM935.1 1233.2a19.2 19.2 0 1 0 38.4 0a19.2 19.2 0 1 0 -38.4 0ZM955.1 1237.5a19.2 19.2 0 1 0 38.4 0a19.2 19.2 0 1 0 -38.4 0ZM975.8 1233.8a19.2 19.2 0 1 0 38.4 0a19.2 19.2 0 1 0 -38.4 0ZM995.8 1238.0a19.2 19.2 0 1 0 38.4 0a19.2 19.2 0 1 0 -38.4 0ZM1016.6 1234.3a19.2 19.2 0 1 0 38.4 0a19.2 19.2 0 1 0 -38.4 0ZM1038.6 1238.6a19.2 19.2 0 1 0 38.4 0a19.2 19.2 0 1 0 -38.4 0ZM1059.3 1234.9a19.2 19.2 0 1 0 38.4 0a19.2 19.2 0 1 0 -38.4 0ZM1080.0 1239.2a19.2 19.2 0 1 0 38.4 0a19.2 19.2 0 1 0 -38.4 0ZM1100.7 1235.5a19.2 19.2 0 1 0 38.4 0a19.2 19.2 0 1 0 -38.4 0ZM1120.7 1239.7a19.2 19.2 0 1 0 38.4 0a19.2 19.2 0 1 0 -38.4 0ZM1142.1 1236.0a19.2 19.2 0 1 0 38.4 0a19.2 19.2 0 1 0 -38.4 0ZM1162.8 1240.3a19.2 19.2 0 1 0 38.4 0a19.2 19.2 0 1 0 -38.4 0ZM1184.2 1236.6a19.2 19.2 0 1 0 38.4 0a19.2 19.2 0 1 0 -38.4 0ZM1205.5 1240.9a19.2 19.2 0 1 0 38.4 0a19.2 19.2 0 1 0 -38.4 0ZM1226.3 1237.2a19.2 19.2 0 1 0 38.4 0a19.2 19.2 0 1 0 -38.4 0ZM1246.9 1241.5a19.2 19.2 0 1 0 38.4 0a19.2 19.2 0 1 0 -38.4 0ZM1262.8 1240.1a19.2 19.2 0 1 0 38.4 0a19.2 19.2 0 1 0 -38.4 0ZM1273.2 1240.7a19.2 19.2 0 1 0 38.4 0a19.2 19.2 0 1 0 -38.4 0ZM1283.5 1241.3a19.2 19.2 0 1 0 38.4 0a19.2 19.2 0 1 0 -38.4 0ZM1293.9 1241.8a19.2 19.2 0 1 0 38.4 0a19.2 19.2 0 1 0 -38.4 0ZM1304.3 1242.4a19.2 19.2 0 1 0 38.4 0a19.2 19.2 0 1 0 -38.4 0ZM1314.7 1243.0a19.2 19.2 0 1 0 38.4 0a19.2 19.2 0 1 0 -38.4 0ZM1325.0 1243.6a19.2 19.2 0 1 0 38.4 0a19.2 19.2 0 1 0 -38.4 0ZM1335.4 1244.1a19.2 19.2 0 1 0 38.4 0a19.2 19.2 0 1 0 -38.4 0ZM1345.8 1244.7a19.2 19.2 0 1 0 38.4 0a19.2 19.2 0 1 0 -38.4 0ZM1356.2 1245.5a19.2 19.2 0 1 0 38.4 0a19.2 19.2 0 1 0 -38.4 0ZM1366.5 1246.4a19.2 19.2 0 1 0 38.4 0a19.2 19.2 0 1 0 -38.4 0ZM1376.9 1247.4a19.2 19.2 0 1 0 38.4 0a19.2 19.2 0 1 0 -38.4 0ZM1387.3 1248.3a19.2 19.2 0 1 0 38.4 0a19.2 19.2 0 1 0 -38.4 0ZM1397.7 1249.3a19.2 19.2 0 1 0 38.4 0a19.2 19.2 0 1 0 -38.4 0ZM1408.0 1250.2a19.2 19.2 0 1 0 38.4 0a19.2 19.2 0 1 0 -38.4 0ZM1418.4 1251.1a19.2 19.2 0 1 0 38.4 0a19.2 19.2 0 1 0 -38.4 0ZM1428.8 1252.1a19.2 19.2 0 1 0 38.4 0a19.2 19.2 0 1 0 -38.4 0ZM1439.2 1253.0a19.2 19.2 0 1 0 38.4 0a19.2 19.2 0 1 0 -38.4 0ZM1449.5 1254.0a19.2 19.2 0 1 0 38.4 0a19.2 19.2 0 1 0 -38.4 0ZM1459.9 1254.9a19.2 19.2 0 1 0 38.4 0a19.2 19.2 0 1 0 -38.4 0ZM1470.3 1256.5a19.2 19.2 0 1 0 38.4 0a19.2 19.2 0 1 0 -38.4 0ZM1480.7 1258.1a19.2 19.2 0 1 0 38.4 0a19.2 19.2 0 1 0 -38.4 0ZM1491.0 1259.7a19.2 19.2 0 1 0 38.4 0a19.2 19.2 0 1 0 -38.4 0ZM1501.4 1261.3a19.2 19.2 0 1 0 38.4 0a19.2 19.2 0 1 0 -38.4 0ZM1511.8 1262.9a19.2 19.2 0 1 0 38.4 0a19.2 19.2 0 1 0 -38.4 0ZM1522.2 1264.5a19.2 19.2 0 1 0 38.4 0a19.2 19.2 0 1 0 -38.4 0ZM1532.5 1266.1a19.2 19.2 0 1 0 38.4 0a19.2 19.2 0 1 0 -38.4 0ZM1542.9 1267.7a19.2 19.2 0 1 0 38.4 0a19.2 19.2 0 1 0 -38.4 0ZM1553.3 1269.3a19.2 19.2 0 1 0 38.4 0a19.2 19.2 0 1 0 -38.4 0ZM1563.7 1270.9a19.2 19.2 0 1 0 38.4 0a19.2 19.2 0 1 0 -38.4 0ZM1574.0 1272.5a19.2 19.2 0 1 0 38.4 0a19.2 19.2 0 1 0 -38.4 0ZM1584.4 1274.2a19.2 19.2 0 1 0 38.4 0a19.2 19.2 0 1 0 -38.4 0ZM1594.8 1275.8a19.2 19.2 0 1 0 38.4 0a19.2 19.2 0 1 0 -38.4 0ZM1605.2 1277.5a19.2 19.2 0 1 0 38.4 0a19.2 19.2 0 1 0 -38.4 0ZM1615.5 1279.1a19.2 19.2 0 1 0 38.4 0a19.2 19.2 0 1 0 -38.4 0ZM1625.9 1280.8a19.2 19.2 0 1 0 38.4 0a19.2 19.2 0 1 0 -38.4 0ZM1636.3 1282.4a19.2 19.2 0 1 0 38.4 0a19.2 19.2 0 1 0 -38.4 0ZM1646.7 1284.1a19.2 19.2 0 1 0 38.4 0a19.2 19.2 0 1 0 -38.4 0ZM1657.0 1285.7a19.2 19.2 0 1 0 38.4 0a19.2 19.2 0 1 0 -38.4 0ZM1667.4 1287.0a19.2 19.2 0 1 0 38.4 0a19.2 19.2 0 1 0 -38.4 0ZM1677.8 1288.4a19.2 19.2 0 1 0 38.4 0a19.2 19.2 0 1 0 -38.4 0ZM1688.2 1289.8a19.2 19.2 0 1 0 38.4 0a19.2 19.2 0 1 0 -38.4 0ZM1698.5 1291.2a19.2 19.2 0 1 0 38.4 0a19.2 19.2 0 1 0 -38.4 0ZM1708.9 1292.5a19.2 19.2 0 1 0 38.4 0a19.2 19.2 0 1 0 -38.4 0ZM1719.3 1293.9a19.2 19.2 0 1 0 38.4 0a19.2 19.2 0 1 0 -38.4 0ZM1729.7 1295.3a19.2 19.2 0 1 0 38.4 0a19.2 19.2 0 1 0 -38.4 0ZM1740.0 1296.7a19.2 19.2 0 1 0 38.4 0a19.2 19.2 0 1 0 -38.4 0ZM1750.4 1298.3a19.2 19.2 0 1 0 38.4 0a19.2 19.2 0 1 0 -38.4 0ZM1760.8 1300.0a19.2 19.2 0 1 0 38.4 0a19.2 19.2 0 1 0 -38.4 0Z" stroke="#e24646" stroke-width="1.9"/>
<path d="M313.5 681.9L336.8 721.4H290.2ZM315.4 716.0L338.6 755.5H292.1ZM335.0 719.0L358.2 758.5H311.8ZM353.8 742.4L377.1 781.9H330.6ZM371.5 788.6L394.8 828.1H348.2ZM389.1 778.5L412.4 818.0H365.9ZM407.6 802.0L430.9 841.5H384.4ZM425.3 794.5L448.6 834.0H402.1ZM444.6 825.6L467.9 865.1H421.4ZM462.3 807.0L485.6 846.5H439.1ZM479.0 831.5L502.2 871.0H455.8ZM497.6 835.7L520.9 875.2H474.4ZM516.0 851.7L539.2 891.2H492.8ZM534.6 864.3L557.9 903.8H511.4ZM553.0 861.8L576.2 901.3H529.8ZM571.6 882.8L594.9 922.3H548.4ZM590.0 867.7L613.2 907.2H566.8ZM608.0 885.0L631.2 924.5H584.8ZM627.7 893.8L651.0 933.3H604.5ZM645.4 909.8L668.6 949.3H622.1ZM664.7 909.8L688.0 949.3H641.5ZM683.2 912.3L706.5 951.8H660.0ZM701.7 922.4L725.0 961.9H678.5ZM721.0 917.3L744.2 956.8H697.8ZM740.4 942.6L763.6 982.1H717.1ZM758.9 927.4L782.1 966.9H735.6ZM778.2 951.0L801.5 990.5H755.0ZM797.6 948.5L820.9 988.0H774.4ZM817.0 953.5L840.2 993.0H793.8ZM836.3 961.0L859.5 1000.5H813.0ZM855.6 961.0L878.9 1000.5H832.4ZM875.0 972.0L898.2 1011.5H851.8ZM895.0 969.5L918.2 1009.0H871.8ZM914.5 979.6L937.8 1019.1H891.2ZM935.0 979.5L958.2 1019.0H911.8ZM953.8 988.0L977.0 1027.5H930.5ZM974.5 993.6L997.8 1033.1H951.2ZM994.2 995.4L1017.5 1034.9H971.0ZM1015.0 1003.9L1038.2 1043.4H991.8ZM1035.6 1006.7L1058.8 1046.2H1012.3ZM1055.3 1011.4L1078.5 1050.9H1032.0ZM1077.0 1016.0L1100.2 1055.5H1053.8ZM1097.6 1021.8L1120.8 1061.3H1074.3ZM1119.2 1024.6L1142.5 1064.1H1096.0ZM1139.9 1027.4L1163.2 1066.9H1116.7ZM1160.6 1032.0L1183.8 1071.5H1137.3ZM1181.2 1036.8L1204.5 1076.3H1158.0ZM1202.8 1040.5L1226.0 1080.0H1179.5ZM1223.5 1046.2L1246.8 1085.7H1200.2ZM1245.0 1048.0L1268.2 1087.5H1221.8ZM1265.8 1055.6L1289.0 1095.1H1242.5ZM1284.6 1058.4L1307.8 1097.9H1261.3ZM1294.0 1063.5L1317.2 1103.0H1270.8ZM1304.5 1067.4L1327.8 1106.9H1281.3ZM1315.1 1071.2L1338.3 1110.7H1291.8ZM1325.6 1075.1L1348.9 1114.6H1302.4ZM1336.2 1079.0L1359.4 1118.5H1312.9ZM1346.7 1082.9L1370.0 1122.4H1323.5ZM1357.3 1086.8L1380.5 1126.3H1334.0ZM1367.8 1090.7L1391.1 1130.2H1344.6ZM1378.4 1094.6L1401.6 1134.1H1355.1ZM1388.9 1098.4L1412.2 1137.9H1365.7ZM1399.5 1102.0L1422.7 1141.5H1376.2ZM1410.0 1105.6L1433.3 1145.1H1386.8ZM1420.6 1109.2L1443.8 1148.7H1397.3ZM1431.1 1112.8L1454.4 1152.3H1407.9ZM1441.7 1116.4L1464.9 1155.9H1418.4ZM1452.2 1120.1L1475.5 1159.6H1429.0ZM1462.8 1123.7L1486.0 1163.2H1439.5ZM1473.3 1127.3L1496.6 1166.8H1450.1ZM1483.9 1130.9L1507.1 1170.4H1460.6ZM1494.4 1134.5L1517.7 1174.0H1471.2ZM1505.0 1138.1L1528.2 1177.6H1481.7ZM1515.5 1141.8L1538.8 1181.3H1492.3ZM1526.1 1145.4L1549.3 1184.9H1502.8ZM1536.6 1149.0L1559.9 1188.5H1513.4ZM1547.2 1152.6L1570.4 1192.1H1523.9ZM1557.7 1156.2L1581.0 1195.7H1534.5ZM1568.3 1160.1L1591.5 1199.6H1545.0ZM1578.8 1164.0L1602.1 1203.5H1555.6ZM1589.4 1168.0L1612.6 1207.5H1566.1ZM1599.9 1171.9L1623.2 1211.4H1576.7ZM1610.5 1175.8L1633.7 1215.3H1587.2ZM1621.0 1179.8L1644.3 1219.3H1597.8ZM1631.6 1183.7L1654.8 1223.2H1608.3ZM1642.1 1187.6L1665.4 1227.1H1618.9ZM1652.7 1191.6L1675.9 1231.1H1629.4ZM1663.2 1195.5L1686.5 1235.0H1640.0ZM1673.8 1199.5L1697.0 1239.0H1650.5ZM1684.3 1203.4L1707.6 1242.9H1661.1ZM1694.9 1207.3L1718.1 1246.8H1671.6ZM1705.4 1211.3L1728.7 1250.8H1682.2ZM1716.0 1215.2L1739.2 1254.7H1692.7ZM1726.5 1219.1L1749.8 1258.6H1703.3ZM1737.1 1223.1L1760.3 1262.6H1713.8ZM1747.6 1227.0L1770.9 1266.5H1724.4ZM1758.2 1230.9L1781.4 1270.4H1734.9ZM1768.7 1234.9L1792.0 1274.4H1745.5ZM1779.3 1238.8L1802.5 1278.3H1756.0ZM1789.8 1242.8L1813.1 1282.3H1766.6ZM1800.4 1246.7L1823.6 1286.2H1777.1ZM1810.9 1250.6L1834.2 1290.1H1787.7ZM1821.5 1254.6L1844.7 1294.1H1798.2ZM1832.0 1258.5L1855.2 1298.0H1808.8Z" stroke="#1b66c4" stroke-width="1.9"/>
<path d="M287.8 185.5H334.2L311.0 225.5ZM293.1 232.9H339.6L316.4 272.9ZM311.6 250.7H358.1L334.8 290.7ZM330.1 285.7H376.6L353.3 325.7ZM347.6 305.5H394.1L370.8 345.5ZM366.4 316.5H412.9L389.6 356.5ZM383.4 345.5H429.9L406.6 385.5ZM400.8 339.6H447.2L424.0 379.6ZM421.1 376.6H467.6L444.4 416.6ZM438.8 376.6H485.2L462.0 416.6ZM456.8 404.7H503.2L480.0 444.7ZM473.8 441.8H520.2L497.0 481.8ZM492.8 424.0H539.2L516.0 464.0ZM512.8 470.0H559.2L536.0 510.0ZM530.8 428.4H577.2L554.0 468.4ZM550.5 483.5H597.0L573.8 523.5ZM567.4 454.3H613.9L590.6 494.3ZM583.8 491.0H630.2L607.0 531.0ZM604.8 502.5H651.2L628.0 542.5ZM622.8 493.6H669.2L646.0 533.6ZM640.8 530.6H687.2L664.0 570.6ZM658.8 515.0H705.2L682.0 555.0ZM678.8 559.4H725.2L702.0 599.4ZM697.8 541.6H744.2L721.0 581.6ZM718.8 573.0H765.2L742.0 613.0ZM734.8 573.0H781.2L758.0 613.0ZM755.8 580.8H802.2L779.0 620.8ZM773.8 599.0H820.2L797.0 639.0ZM795.1 588.2H841.6L818.4 628.2ZM813.8 616.7H860.2L837.0 656.7ZM832.8 611.7H879.2L856.0 651.7ZM849.8 630.3H896.2L873.0 670.3ZM870.8 630.3H917.2L894.0 670.3ZM890.8 646.3H937.2L914.0 686.3ZM911.4 653.7H957.9L934.6 693.7ZM931.8 656.0H978.2L955.0 696.0ZM951.8 677.0H998.2L975.0 717.0ZM971.8 679.7H1018.2L995.0 719.7ZM992.8 688.4H1039.2L1016.0 728.4ZM1011.8 695.3H1058.2L1035.0 735.3ZM1032.8 705.7H1079.2L1056.0 745.7ZM1052.8 718.0H1099.2L1076.0 758.0ZM1074.8 724.2H1121.2L1098.0 764.2ZM1094.8 737.8H1141.2L1118.0 777.8ZM1115.8 745.2H1162.2L1139.0 785.2ZM1136.8 756.4H1183.2L1160.0 796.4ZM1157.8 760.8H1204.2L1181.0 800.8ZM1178.8 771.2H1225.2L1202.0 811.2ZM1200.8 781.0H1247.2L1224.0 821.0ZM1222.8 787.3H1269.2L1246.0 827.3ZM1233.8 795.0H1280.2L1257.0 835.0ZM1244.6 803.7H1291.1L1267.8 843.7ZM1255.4 812.4H1301.9L1278.7 852.4ZM1266.3 821.1H1312.8L1289.5 861.1ZM1277.1 829.7H1323.6L1300.4 869.7ZM1288.0 838.4H1334.5L1311.2 878.4ZM1298.8 847.1H1345.3L1322.1 887.1ZM1309.6 855.8H1356.1L1332.9 895.8ZM1320.5 864.5H1367.0L1343.7 904.5ZM1331.3 873.2H1377.8L1354.6 913.2ZM1342.2 881.8H1388.7L1365.4 921.8ZM1353.0 890.5H1399.5L1376.3 930.5ZM1363.9 899.2H1410.4L1387.1 939.2ZM1374.7 907.9H1421.2L1398.0 947.9ZM1385.5 916.6H1432.0L1408.8 956.6ZM1396.4 925.3H1442.9L1419.6 965.3ZM1407.2 934.0H1453.7L1430.5 974.0ZM1418.1 942.6H1464.6L1441.3 982.6ZM1428.9 951.3H1475.4L1452.2 991.3ZM1439.8 960.0H1486.3L1463.0 1000.0ZM1450.6 968.4H1497.1L1473.9 1008.4ZM1461.4 976.7H1507.9L1484.7 1016.7ZM1472.3 985.1H1518.8L1495.5 1025.1ZM1483.1 993.4H1529.6L1506.4 1033.4ZM1494.0 1001.8H1540.5L1517.2 1041.8ZM1504.8 1010.2H1551.3L1528.1 1050.2ZM1515.7 1018.5H1562.2L1538.9 1058.5ZM1526.5 1026.9H1573.0L1549.8 1066.9ZM1537.3 1035.2H1583.8L1560.6 1075.2ZM1548.2 1043.6H1594.7L1571.4 1083.6ZM1559.0 1051.0H1605.5L1582.3 1091.0ZM1569.9 1058.2H1616.4L1593.1 1098.2ZM1580.7 1066.0H1627.2L1604.0 1106.0ZM1591.6 1074.1H1638.1L1614.8 1114.1ZM1602.4 1082.2H1648.9L1625.6 1122.2ZM1613.2 1090.3H1659.7L1636.5 1130.3ZM1624.1 1098.0H1670.6L1647.3 1138.0ZM1634.9 1105.7H1681.4L1658.2 1145.7ZM1645.8 1113.3H1692.3L1669.0 1153.3ZM1656.6 1121.0H1703.1L1679.9 1161.0ZM1667.5 1128.6H1714.0L1690.7 1168.6ZM1678.3 1136.3H1724.8L1701.5 1176.3ZM1689.1 1143.9H1735.6L1712.4 1183.9ZM1700.0 1151.4H1746.5L1723.2 1191.4ZM1710.8 1159.0H1757.3L1734.1 1199.0ZM1721.7 1166.6H1768.2L1744.9 1206.6ZM1732.5 1174.2H1779.0L1755.8 1214.2ZM1743.4 1181.6H1789.9L1766.6 1221.6ZM1754.2 1187.2H1800.7L1777.4 1227.2ZM1765.0 1192.7H1811.5L1788.3 1232.7ZM1775.9 1198.5H1822.4L1799.1 1238.5ZM1786.7 1204.6H1833.2L1810.0 1244.6ZM1797.6 1212.6H1844.1L1820.8 1252.6ZM1808.4 1221.8H1854.9L1831.7 1261.8ZM1819.2 1230.7H1865.8L1842.5 1270.7ZM1826.8 1233.0H1873.2L1850.0 1273.0ZM1834.8 1235.6H1881.2L1858.0 1275.6ZM1843.8 1235.6H1890.2L1867.0 1275.6ZM1853.8 1235.6H1900.2L1877.0 1275.6ZM1864.2 1235.6H1910.8L1887.5 1275.6ZM1861.2 1248.7H1907.7L1884.4 1288.7Z" stroke="#1f9a76" stroke-width="1.9"/>
<path d="M315.5 425.0L340.0 449.0L315.5 473.0L291.0 449.0ZM334.7 420.0L359.2 444.0L334.7 468.0L310.2 444.0ZM352.5 417.0L377.0 441.0L352.5 465.0L328.0 441.0ZM369.7 405.6L394.2 429.6L369.7 453.6L345.2 429.6ZM389.0 403.0L413.5 427.0L389.0 451.0L364.5 427.0ZM408.0 400.6L432.5 424.6L408.0 448.6L383.5 424.6ZM424.9 393.2L449.4 417.2L424.9 441.2L400.4 417.2ZM443.9 388.5L468.4 412.5L443.9 436.5L419.4 412.5ZM462.9 380.8L487.4 404.8L462.9 428.8L438.4 404.8ZM482.0 376.0L506.5 400.0L482.0 424.0L457.5 400.0ZM498.0 447.7L522.5 471.7L498.0 495.7L473.5 471.7ZM518.0 437.0L542.5 461.0L518.0 485.0L493.5 461.0ZM535.5 488.5L560.0 512.5L535.5 536.5L511.0 512.5ZM553.0 494.0L577.5 518.0L553.0 542.0L528.5 518.0ZM572.4 532.8L596.9 556.8L572.4 580.8L547.9 556.8ZM589.4 583.6L613.9 607.6L589.4 631.6L564.9 607.6ZM610.0 574.5L634.5 598.5L610.0 622.5L585.5 598.5ZM627.0 643.5L651.5 667.5L627.0 691.5L602.5 667.5ZM645.7 627.5L670.2 651.5L645.7 675.5L621.2 651.5ZM662.6 663.0L687.1 687.0L662.6 711.0L638.1 687.0ZM683.1 673.9L707.6 697.9L683.1 721.9L658.6 697.9ZM701.6 683.9L726.1 707.9L701.6 731.9L677.1 707.9ZM721.0 702.0L745.5 726.0L721.0 750.0L696.5 726.0ZM741.0 708.0L765.5 732.0L741.0 756.0L716.5 732.0ZM759.5 740.4L784.0 764.4L759.5 788.4L735.0 764.4ZM778.0 711.0L802.5 735.0L778.0 759.0L753.5 735.0ZM797.7 752.0L822.2 776.0L797.7 800.0L773.2 776.0ZM817.0 755.5L841.5 779.5L817.0 803.5L792.5 779.5ZM835.6 767.5L860.1 791.5L835.6 815.5L811.1 791.5ZM855.7 778.0L880.2 802.0L855.7 826.0L831.2 802.0ZM875.0 788.0L899.5 812.0L875.0 836.0L850.5 812.0ZM894.0 807.0L918.5 831.0L894.0 855.0L869.5 831.0ZM915.0 801.6L939.5 825.6L915.0 849.6L890.5 825.6ZM934.0 812.0L958.5 836.0L934.0 860.0L909.5 836.0ZM954.3 815.0L978.8 839.0L954.3 863.0L929.8 839.0ZM974.0 828.0L998.5 852.0L974.0 876.0L949.5 852.0ZM994.4 836.0L1018.9 860.0L994.4 884.0L969.9 860.0ZM1015.0 843.0L1039.5 867.0L1015.0 891.0L990.5 867.0ZM1035.2 851.0L1059.7 875.0L1035.2 899.0L1010.7 875.0ZM1056.0 856.5L1080.5 880.5L1056.0 904.5L1031.5 880.5ZM1077.0 867.0L1101.5 891.0L1077.0 915.0L1052.5 891.0ZM1098.0 869.4L1122.5 893.4L1098.0 917.4L1073.5 893.4ZM1119.0 880.4L1143.5 904.4L1119.0 928.4L1094.5 904.4ZM1141.0 882.9L1165.5 906.9L1141.0 930.9L1116.5 906.9ZM1161.0 890.4L1185.5 914.4L1161.0 938.4L1136.5 914.4ZM1181.0 898.0L1205.5 922.0L1181.0 946.0L1156.5 922.0ZM1202.0 904.0L1226.5 928.0L1202.0 952.0L1177.5 928.0ZM1224.0 909.0L1248.5 933.0L1224.0 957.0L1199.5 933.0ZM1245.0 916.5L1269.5 940.5L1245.0 964.5L1220.5 940.5ZM1265.0 921.6L1289.5 945.6L1265.0 969.6L1240.5 945.6ZM1282.0 930.0L1306.5 954.0L1282.0 978.0L1257.5 954.0ZM1292.6 935.9L1317.1 959.9L1292.6 983.9L1268.1 959.9ZM1303.2 941.9L1327.7 965.9L1303.2 989.9L1278.7 965.9ZM1313.8 947.8L1338.3 971.8L1313.8 995.8L1289.3 971.8ZM1324.4 953.8L1348.9 977.8L1324.4 1001.8L1299.9 977.8ZM1335.0 959.7L1359.5 983.7L1335.0 1007.7L1310.5 983.7ZM1345.6 965.6L1370.1 989.6L1345.6 1013.6L1321.1 989.6ZM1356.2 971.6L1380.7 995.6L1356.2 1019.6L1331.7 995.6ZM1366.8 977.5L1391.3 1001.5L1366.8 1025.5L1342.3 1001.5ZM1377.4 983.4L1401.9 1007.4L1377.4 1031.4L1352.9 1007.4ZM1388.0 989.4L1412.5 1013.4L1388.0 1037.4L1363.5 1013.4ZM1398.6 995.3L1423.1 1019.3L1398.6 1043.3L1374.1 1019.3ZM1409.2 1001.2L1433.7 1025.2L1409.2 1049.2L1384.7 1025.2ZM1419.8 1007.0L1444.3 1031.0L1419.8 1055.0L1395.3 1031.0ZM1430.4 1012.9L1454.9 1036.9L1430.4 1060.9L1405.9 1036.9ZM1441.0 1018.8L1465.5 1042.8L1441.0 1066.8L1416.5 1042.8ZM1451.6 1024.7L1476.1 1048.7L1451.6 1072.7L1427.1 1048.7ZM1462.2 1030.6L1486.7 1054.6L1462.2 1078.6L1437.7 1054.6ZM1472.8 1036.5L1497.3 1060.5L1472.8 1084.5L1448.3 1060.5ZM1483.4 1042.4L1507.9 1066.4L1483.4 1090.4L1458.9 1066.4ZM1494.0 1048.3L1518.5 1072.3L1494.0 1096.3L1469.5 1072.3ZM1504.6 1054.2L1529.1 1078.2L1504.6 1102.2L1480.1 1078.2ZM1515.2 1060.1L1539.7 1084.1L1515.2 1108.1L1490.7 1084.1ZM1525.8 1066.0L1550.3 1090.0L1525.8 1114.0L1501.3 1090.0ZM1536.4 1071.9L1560.9 1095.9L1536.4 1119.9L1511.9 1095.9ZM1547.0 1077.8L1571.5 1101.8L1547.0 1125.8L1522.5 1101.8ZM1557.6 1083.7L1582.1 1107.7L1557.6 1131.7L1533.1 1107.7ZM1568.2 1089.8L1592.7 1113.8L1568.2 1137.8L1543.7 1113.8ZM1578.8 1096.0L1603.3 1120.0L1578.8 1144.0L1554.3 1120.0ZM1589.4 1102.2L1613.9 1126.2L1589.4 1150.2L1564.9 1126.2ZM1600.0 1108.3L1624.5 1132.3L1600.0 1156.3L1575.5 1132.3ZM1610.6 1114.5L1635.1 1138.5L1610.6 1162.5L1586.1 1138.5ZM1621.2 1120.7L1645.7 1144.7L1621.2 1168.7L1596.7 1144.7ZM1631.8 1126.9L1656.3 1150.9L1631.8 1174.9L1607.3 1150.9ZM1642.4 1133.1L1666.9 1157.1L1642.4 1181.1L1617.9 1157.1ZM1653.0 1138.9L1677.5 1162.9L1653.0 1186.9L1628.5 1162.9ZM1663.6 1144.3L1688.1 1168.3L1663.6 1192.3L1639.1 1168.3ZM1674.2 1149.8L1698.7 1173.8L1674.2 1197.8L1649.7 1173.8ZM1684.8 1155.2L1709.3 1179.2L1684.8 1203.2L1660.3 1179.2ZM1695.4 1160.6L1719.9 1184.6L1695.4 1208.6L1670.9 1184.6ZM1706.0 1166.1L1730.5 1190.1L1706.0 1214.1L1681.5 1190.1ZM1716.6 1171.5L1741.1 1195.5L1716.6 1219.5L1692.1 1195.5ZM1727.2 1177.0L1751.7 1201.0L1727.2 1225.0L1702.7 1201.0ZM1737.8 1182.4L1762.3 1206.4L1737.8 1230.4L1713.3 1206.4ZM1748.4 1187.8L1772.9 1211.8L1748.4 1235.8L1723.9 1211.8ZM1759.0 1193.3L1783.5 1217.3L1759.0 1241.3L1734.5 1217.3ZM1769.6 1198.7L1794.1 1222.7L1769.6 1246.7L1745.1 1222.7ZM1780.2 1204.2L1804.7 1228.2L1780.2 1252.2L1755.7 1228.2ZM1790.8 1209.6L1815.3 1233.6L1790.8 1257.6L1766.3 1233.6ZM1801.4 1215.1L1825.9 1239.1L1801.4 1263.1L1776.9 1239.1ZM1812.0 1220.5L1836.5 1244.5L1812.0 1268.5L1787.5 1244.5ZM1822.6 1225.9L1847.1 1249.9L1822.6 1273.9L1798.1 1249.9ZM1833.2 1231.4L1857.7 1255.4L1833.2 1279.4L1808.7 1255.4ZM1843.8 1236.8L1868.3 1260.8L1843.8 1284.8L1819.3 1260.8ZM1854.4 1242.3L1878.9 1266.3L1854.4 1290.3L1829.9 1266.3ZM1865.0 1247.7L1889.5 1271.7L1865.0 1295.7L1840.5 1271.7Z" stroke="#a576d4" stroke-width="1.9"/>
</g>
<rect x="311.5" y="95.5" width="1604.3" height="1345.7" fill="none" stroke="#000" stroke-width="5.3"/>
<path d="M311.5 1402.2H337.4M311.5 1197.9H324.3M311.5 993.6H337.4M311.5 789.3H324.3M311.5 585.0H337.4M311.5 380.7H324.3M311.5 176.4H337.4M553.0 1441.2V1427.8M694.2 1441.2V1427.8M794.4 1441.2V1427.8M872.2 1441.2V1427.8M935.7 1441.2V1427.8M989.4 1441.2V1427.8M1035.9 1441.2V1427.8M1076.9 1441.2V1427.8M1113.7 1441.2V1417.5M1355.1 1441.2V1427.8M1496.4 1441.2V1427.8M1596.6 1441.2V1427.8M1674.3 1441.2V1427.8M1737.8 1441.2V1427.8M1791.5 1441.2V1427.8M1838.1 1441.2V1427.8M1879.1 1441.2V1427.8" stroke="#000" stroke-width="5.3" fill="none"/>
<text transform="translate(143.71 197.29) scale(1.0233 0.9937)" font-family="'Liberation Serif','Times New Roman',serif" font-weight="bold" font-size="68" fill="#000" stroke="#fff" stroke-width="1.4">3000</text>
<text transform="translate(143.90 604.84) scale(1.0279 1.0021)" font-family="'Liberation Serif','Times New Roman',serif" font-weight="bold" font-size="68" fill="#000" stroke="#fff" stroke-width="1.4">2000</text>
<text transform="translate(145.09 1012.81) scale(1.0176 1.0061)" font-family="'Liberation Serif','Times New Roman',serif" font-weight="bold" font-size="68" fill="#000" stroke="#fff" stroke-width="1.4">1000</text>
<text transform="translate(246.98 1420.02) scale(1.0828 0.9985)" font-family="'Liberation Serif','Times New Roman',serif" font-weight="bold" font-size="68" fill="#000" stroke="#fff" stroke-width="1.4">0</text>
<text transform="translate(216.80 1532.51) scale(1.0263 0.9985)" font-family="'Liberation Serif','Times New Roman',serif" font-weight="bold" font-size="68" fill="#000" stroke="#fff" stroke-width="1.4">5x10</text>
<text transform="translate(353.49 1504.37) scale(1.0326 1.0972)" font-family="'Liberation Serif','Times New Roman',serif" font-weight="bold" font-size="46" fill="#000" stroke="#fff" stroke-width="1.4">14</text>
<text transform="translate(1020.97 1532.51) scale(1.0079 0.9985)" font-family="'Liberation Serif','Times New Roman',serif" font-weight="bold" font-size="68" fill="#000" stroke="#fff" stroke-width="1.4">5x10</text>
<text transform="translate(1155.54 1503.93) scale(1.1027 1.0647)" font-family="'Liberation Serif','Times New Roman',serif" font-weight="bold" font-size="46" fill="#000" stroke="#fff" stroke-width="1.4">15</text>
<text transform="translate(1823.23 1532.51) scale(1.0202 0.9985)" font-family="'Liberation Serif','Times New Roman',serif" font-weight="bold" font-size="68" fill="#000" stroke="#fff" stroke-width="1.4">5x10</text>
<text transform="translate(1957.47 1504.16) scale(1.1205 1.0856)" font-family="'Liberation Serif','Times New Roman',serif" font-weight="bold" font-size="46" fill="#000" stroke="#fff" stroke-width="1.4">16</text>
<text transform="translate(758.14 1658.31) scale(0.9879 1.0034)" font-family="'Liberation Serif','Times New Roman',serif" font-weight="bold" font-size="81" fill="#000" stroke="#fff" stroke-width="1.4">Injection level (cm</text>
<text transform="translate(1389.49 1624.88) scale(1.0804 0.9897)" font-family="'Liberation Serif','Times New Roman',serif" font-weight="normal" font-size="52" fill="#000">-3</text>
<text transform="translate(1434.29 1657.54) scale(1.1608 0.9875)" font-family="'Liberation Serif','Times New Roman',serif" font-weight="bold" font-size="81" fill="#000" stroke="#fff" stroke-width="1.4">)</text>
<text transform="translate(69.59 1518.69) rotate(-90) scale(0.9886 0.9945)" font-family="'Liberation Serif','Times New Roman',serif" font-weight="bold" font-size="81" fill="#000" stroke="#fff" stroke-width="1.4">Effective minority carrier lifetime (τeff) (μs)</text>
<text transform="translate(1590.65 188.26) scale(1.0104 0.9613)" font-family="'Liberation Serif','Times New Roman',serif" font-weight="normal" font-size="68" fill="#000">500 °C</text>
<text transform="translate(1590.97 272.04) scale(1.0098 0.9605)" font-family="'Liberation Serif','Times New Roman',serif" font-weight="normal" font-size="68" fill="#000">400 °C</text>
<text transform="translate(1590.77 355.37) scale(1.0093 0.9521)" font-family="'Liberation Serif','Times New Roman',serif" font-weight="normal" font-size="68" fill="#000">300 °C</text>
<text transform="translate(1589.95 438.94) scale(1.0152 0.9521)" font-family="'Liberation Serif','Times New Roman',serif" font-weight="normal" font-size="68" fill="#000">200 °C</text>
<text transform="translate(1591.09 525.45) scale(1.0073 1.0076)" font-family="'Liberation Serif','Times New Roman',serif" font-weight="normal" font-size="68" fill="#000">As-dep.</text>
<g fill="none" stroke-width="1.9">
<path d="M1501.8 142.3L1526.5 167.0L1501.8 191.7L1477.1 167.0Z" stroke="#a576d4"/>
<path d="M1477.0 237.7H1526.5L1501.8 278.2Z" stroke="#1f9a76"/>
<path d="M1501.8 307.4L1526.5 347.4H1477.0Z" stroke="#1b66c4"/>
<circle cx="1502" cy="418.1" r="18.3" stroke="#e24646"/>
<rect x="1483.4" y="486.2" width="34" height="31.2" stroke="#555555" stroke-width="2.6"/>
</g>
</svg>
</body></html>
